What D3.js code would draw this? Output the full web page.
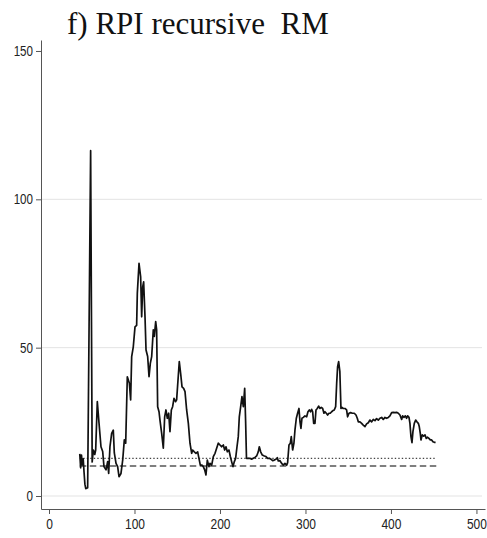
<!DOCTYPE html>
<html>
<head>
<meta charset="utf-8">
<script src="https://cdn.jsdelivr.net/npm/d3@7"></script>
<style>
  html, body { margin: 0; padding: 0; background: #fff; }
  svg { display: block; }
</style>
</head>
<body>
<div id="chart"></div>
<script>
// Recursive-window RMSE of the RPI forecast, by forecast origin
const period = [
  36, 37, 38, 39, 40, 41, 42, 43, 44, 45.2, 48.7, 50.5,
  51.9, 53.5, 54.6, 56.5, 58.5, 60.8, 62.8, 64.3, 66.7, 68.6, 69.8, 71.3,
  73.3, 75.2, 76.4, 78.4, 80.3, 81.9, 84.2, 86.2, 88.1, 89.7, 91.6, 94.0,
  95.5, 96.7, 98.6, 100.6, 102.5, 103.3, 105.3, 107.2, 108.4, 109.6, 110.7, 112.3,
  113.5, 115.4, 117.0, 118.5, 120.1, 122.0, 123.2, 124.8, 125.9, 127.1, 128.7,
  129.8, 131.8, 133.7, 135.3, 136.8, 138.4, 140.0, 141.5, 143.1, 144.6, 146.2, 148.1,
  149.3, 150.9, 152.4, 154.0, 155.6, 157.5, 159.1, 161.0, 163.0, 164.9, 166.9, 168.0,
  170.0, 171.9, 173.9, 175.4, 177.0, 178.9, 180.5, 182.1, 183.6, 185.2, 187.1, 188.3,
  190.3, 192.2, 194.2, 196.1, 198.0, 200.0, 201.9, 203.9, 205.5, 207.0, 208.6, 210.5,
  212.1, 213.6, 215.2, 216.8, 218.3, 219.9, 221.4, 222.6, 224.2, 225.7, 227.3, 228.9,
  230.0, 231.0, 233.0, 235.1, 237.0, 239.0, 240.9, 242.9, 244.8, 246.0, 247.6, 249.5,
  251.9, 253.8, 255.8, 257.7, 259.6, 261.6, 263.5, 265.5, 267.1, 268.2, 270.2, 272.1,
  274.1, 276.0, 278.0, 279.1, 280.7, 282.3, 283.4, 285.0, 286.5, 287.7, 289.3, 290.8,
  292.4, 293.6, 294.7, 295.9, 297.5, 299.4, 301.4, 302.9, 304.5, 306.0, 307.2, 308.4,
  309.6, 311.1, 312.3, 313.8, 315.4, 317.0, 318.5, 320.1, 321.6, 322.8, 324.4, 325.9,
  327.5, 329.0, 330.6, 332.2, 333.7, 335.3, 336.5, 337.6, 338.8, 340.2, 341.5, 342.3,
  344.2, 346.2, 348.1, 349.3, 350.9, 352.8, 354.8, 357.1, 359.1, 360.6, 361.8, 363.7,
  365.7, 367.6, 369.6, 371.5, 373.5, 375.4, 377.4, 379.3, 381.3, 383.2, 385.2, 387.1,
  389.1, 391.0, 393.0, 394.9, 396.9, 398.8, 400.8, 402.7, 404.7, 406.6, 408.6, 410.5,
  412.5, 413.6, 415.2, 416.8, 418.3, 419.5, 421.1, 422.2, 423.4, 424.6, 425.7, 427.3,
  428.9, 430.4, 432.0, 433.1, 434.3, 435.1, 436.6, 438.2, 439.8, 441.3, 442.9, 444.4,
  446.0, 447.6, 449.1, 450.7, 452.2
];
const rmse = [
  14.2, 9.5, 13.8, 10.5, 12.5, 8.0, 4.0, 2.5, 2.6, 2.8, 116.4, 11.5,
  15.5, 14.0, 15.5, 31.8, 24.6, 16.6, 15.0, 9.9, 8.8, 11.6, 7.6, 16.6,
  21.1, 22.2, 14.5, 11.0, 9.9, 6.5, 7.6, 12.1, 18.9, 17.8, 40.2, 38.0,
  32.4, 47.0, 50.3, 57.0, 57.5, 68.3, 78.4, 73.9, 60.4, 70.5, 72.2, 60.4,
  49.2, 47.0, 40.2, 44.7, 47.0, 56.0, 53.8, 58.8, 56.0, 30.1, 28.4,
  25.6, 21.1, 16.1, 26.7, 29.0, 26.2, 27.9, 21.7, 29.0, 30.1, 32.9, 31.8,
  32.4, 39.1, 45.3, 41.3, 36.8, 36.3, 35.2, 29.0, 24.5, 17.8, 14.4, 15.5,
  14.9, 14.4, 14.9, 12.7, 10.4, 10.4, 9.9, 8.8, 7.1, 12.1, 9.9, 11.0,
  10.4, 13.3, 14.4, 16.1, 17.8, 17.2, 16.6, 17.2, 15.5, 16.6, 14.9, 15.5,
  13.3, 11.6, 9.9, 11.6, 12.7, 16.6, 20.0, 26.7, 30.1, 33.5, 30.1, 36.3,
  25.0, 12.7, 12.7, 12.7, 12.4, 12.7, 13.0, 13.5, 14.9, 16.6, 14.9, 13.8,
  13.5, 13.3, 12.7, 12.7, 12.4, 11.9, 12.1, 12.4, 12.9, 11.8, 11.9, 11.0,
  10.4, 11.0, 10.4, 11.2, 17.2, 17.8, 20.0, 15.5, 17.8, 22.2, 26.2, 27.9,
  29.5, 25.0, 22.8, 26.2, 26.5, 27.0, 26.7, 28.4, 29.0, 28.4, 29.2, 28.4,
  24.5, 24.5, 29.0, 29.5, 30.3, 29.5, 29.9, 29.5, 27.9, 28.4, 27.9, 27.3,
  27.9, 27.9, 28.4, 28.8, 29.0, 30.1, 38.0, 43.6, 45.3, 42.0, 29.5, 29.9,
  29.5, 29.5, 29.0, 26.7, 27.9, 28.1, 27.9, 27.9, 27.3, 26.2, 25.0, 25.0,
  24.5, 23.9, 23.4, 24.3, 24.7, 25.6, 25.0, 25.8, 25.4, 26.1, 25.6, 26.2,
  26.5, 25.8, 26.5, 26.2, 26.5, 27.0, 28.1, 28.2, 28.1, 28.2, 27.9, 27.3,
  25.8, 27.0, 26.5, 27.0, 26.2, 27.0, 26.5, 24.5, 20.0, 18.0, 21.7, 24.5,
  25.6, 25.0, 24.5, 23.4, 21.1, 18.9, 20.6, 20.2, 20.6, 19.4, 19.8, 19.4,
  18.9, 18.9, 18.3, 18.1, 18.1
];

// Benchmark levels over the evaluation window
const benchStart = 36, benchEnd = 453;
const benchDotted = 12.7;
const benchDashed = 10.1;

const xTicks = [0, 100, 200, 300, 400, 500];
const yTicks = [0, 50, 100, 150];
const yGrid = [0, 50, 100];
const titleText = "f) RPI recursive\u00a0 RM";

const W = 487, H = 538;
const svg = d3.select("#chart").append("svg")
  .attr("width", W).attr("height", H);

const x = d3.scaleLinear().domain([-9.36, 510]).range([41, 485]);
const y = d3.scaleLinear().domain([-4.38, 153.7]).range([509, 40]);

// horizontal grid
svg.append("g").selectAll("line").data(yGrid).join("line")
  .attr("x1", 42).attr("x2", 482)
  .attr("y1", d => y(d)).attr("y2", d => y(d))
  .attr("stroke", "#e3e3e3").attr("stroke-width", 1);

const tickFont = "'Liberation Sans', Arial, sans-serif";

// y axis
const gy = svg.append("g").attr("transform", `translate(${x.range()[0]},0)`)
  .call(d3.axisLeft(y).tickValues(yTicks).tickSize(5).tickSizeOuter(0).tickPadding(3));
gy.select(".domain").attr("stroke", "#555");
gy.selectAll(".tick line").attr("stroke", "#555");
gy.selectAll(".tick text")
  .attr("font-family", tickFont).attr("font-size", 14.5).attr("fill", "#222")
  .attr("text-anchor", "end")
  .each(function () {
    const t = d3.select(this);
    const tx = +t.attr("x");
    t.attr("x", null).attr("transform", `translate(${tx},0) scale(0.8,1)`);
  });

// x axis
const gx = svg.append("g").attr("transform", `translate(0,${y.range()[0]})`)
  .call(d3.axisBottom(x).tickValues(xTicks).tickSize(5).tickSizeOuter(0).tickPadding(4));
gx.select(".domain").attr("stroke", "#555");
gx.selectAll(".tick line").attr("stroke", "#555");
gx.selectAll(".tick text")
  .attr("font-family", tickFont).attr("font-size", 15).attr("fill", "#222")
  .each(function () {
    const t = d3.select(this);
    const ty = +t.attr("y");
    t.attr("y", null).attr("transform", `translate(0,${ty}) scale(0.8,1)`);
  });

// benchmark lines
svg.append("line")
  .attr("x1", x(benchStart)).attr("x2", x(benchEnd))
  .attr("y1", y(benchDotted)).attr("y2", y(benchDotted))
  .attr("stroke", "#444").attr("stroke-width", 1.3)
  .attr("stroke-dasharray", "1.4,2.1");
svg.append("line")
  .attr("x1", x(benchStart)).attr("x2", x(benchEnd))
  .attr("y1", y(benchDashed)).attr("y2", y(benchDashed))
  .attr("stroke", "#555").attr("stroke-width", 1.5)
  .attr("stroke-dasharray", "6.5,3.5");

// RMSE series
const series = period.map((p, i) => [p, rmse[i]]);
svg.append("path")
  .datum(series)
  .attr("fill", "none")
  .attr("stroke", "#111")
  .attr("stroke-width", 1.7)
  .attr("stroke-linejoin", "round")
  .attr("d", d3.line().x(d => x(d[0])).y(d => y(d[1])));

// title
svg.append("text")
  .attr("x", 67).attr("y", 34)
  .attr("font-family", "'Liberation Serif', 'Times New Roman', serif")
  .attr("font-size", 31)
  .attr("fill", "#111")
  .text(titleText);
</script>
</body>
</html>
